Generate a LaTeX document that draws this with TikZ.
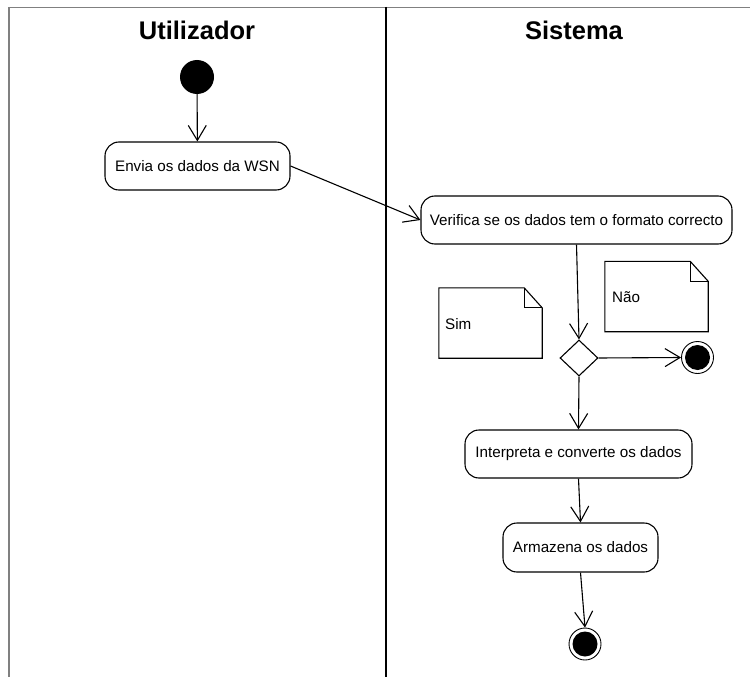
\documentclass[tikz,border=0pt]{standalone}
\usepackage{fontspec}
\setmainfont{Liberation Sans}
\usetikzlibrary{arrows.meta,shapes.geometric}
\begin{document}
\begin{tikzpicture}[x=1pt,y=-1pt,
  act/.style={draw,line width=1.1pt,rounded corners=14pt,minimum height=48pt,inner sep=0pt,font=\fontsize{15.2}{17}\selectfont},
  flow/.style={line width=1.1pt,-{Straight Barb[length=15pt,width=18pt,line width=1.1pt]}},
  lane/.style={line width=1.6pt,draw=black!50},
  header/.style={font=\fontsize{25.5}{30}\selectfont\bfseries},
  startnode/.style={circle,fill=black,minimum size=34pt,inner sep=0pt},
  finalnode/.style={circle,draw,line width=0.9pt,minimum size=32pt,inner sep=0pt,
    path picture={\fill (path picture bounding box.center) circle (12.5pt);}},
  decision/.style={diamond,draw,line width=1.1pt,minimum width=38pt,minimum height=36pt,inner sep=0pt},
  notebox/.style={minimum width=103pt,minimum height=70pt,inner sep=0pt},
  notetext/.style={anchor=west,font=\fontsize{15.2}{17}\selectfont,inner sep=0pt},
  notedraw/.style={line width=1.1pt}
]
\useasboundingbox (0,0) rectangle (750,677);
% swimlanes
\draw[lane] (8,7.5) -- (750,7.5);
\draw[lane] (9,7) -- (9,677);
\draw[line width=1.3pt] (386,7) -- (386,677);
\node[header] (hU) at (197,30) {Utilizador};
\node[header] (hS) at (574,30) {Sistema};
% nodes
\node[startnode] (start) at (197,77) {};
\node[act,minimum width=185pt] (envia) at (197.5,166) {Envia os dados da WSN};
\node[act,minimum width=311pt] (verif) at (576.5,220) {Verifica se os dados tem o formato correcto};
\node[decision] (dec) at (579,358) {};
\node[finalnode] (end1) at (697.5,357.5) {};
\node[act,minimum width=227pt] (interp) at (578.5,454) {Interpreta e converte os dados};
\node[act,minimum width=155pt,minimum height=49pt] (armaz) at (580.5,547.5) {Armazena os dados};
\node[finalnode] (end2) at (585,644) {};
% notes
\node[notebox] (sim) at (490.5,323) {};
\node[notetext] (simt) at (445,324) {Sim};
\draw[notedraw] (sim.north west) -- ([xshift=-18pt]sim.north east) -- ([yshift=-20pt]sim.north east) -- (sim.south east) -- (sim.south west) -- cycle;
\draw[notedraw] ([xshift=-18pt]sim.north east) -- ([xshift=-18pt,yshift=-20pt]sim.north east) -- ([yshift=-20pt]sim.north east);
\node[notebox] (nao) at (656.5,296.5) {};
\node[notetext] (naot) at (612,297) {Não};
\draw[notedraw] (nao.north west) -- ([xshift=-18pt]nao.north east) -- ([yshift=-20pt]nao.north east) -- (nao.south east) -- (nao.south west) -- cycle;
\draw[notedraw] ([xshift=-18pt]nao.north east) -- ([xshift=-18pt,yshift=-20pt]nao.north east) -- ([yshift=-20pt]nao.north east);
% flows
\draw[flow] (start) -- (envia);
\draw[flow] (envia.east) -- (verif.west);
\draw[flow] (verif.south) -- (dec.north);
\draw[flow] (dec.east) -- (end1.west);
\draw[flow] (dec.south) -- (interp.north);
\draw[flow] (interp.south) -- (armaz.north);
\draw[flow] (armaz.south) -- (end2.north);
\end{tikzpicture}
\end{document}
